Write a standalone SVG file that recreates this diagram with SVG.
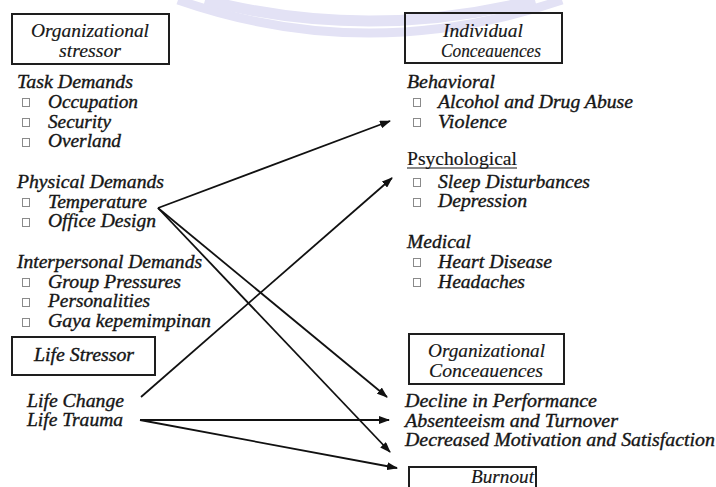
<svg xmlns="http://www.w3.org/2000/svg" width="716" height="487" viewBox="0 0 716 487">
<style>
text{font-family:"Liberation Serif",serif;font-size:18px;font-style:italic;fill:#161616;stroke:#161616;stroke-width:0.35}
.up{font-style:normal}
.hd{stroke-width:0.15}
.box{fill:none;stroke:#1e1e1e;stroke-width:2}
.cb{fill:#fff;stroke:#8a8a8a;stroke-width:1}
.wm{fill:none;stroke:#e3e2f5}
.con{fill:none;stroke:#111;stroke-width:1.8}
</style>
<defs>
<marker id="ah" markerUnits="userSpaceOnUse" markerWidth="11" markerHeight="8" refX="10" refY="4" orient="auto">
<path d="M0,0 L11,4 L0,8 Z" fill="#111"/>
</marker>
</defs>
<rect width="716" height="487" fill="#fff"/>
<g id="watermark">
<path class="wm" d="M178 0 Q368 66 562 0" stroke-width="9"/>
<path class="wm" d="M205 0 Q368 42 535 0" stroke-width="11"/>
</g>
<g font-family="Liberation Serif, serif">
<g id="organizational-stressor">
<rect class="box" x="12" y="14" width="157" height="50"/>
<text class="hd" x="31" y="37" textLength="118" lengthAdjust="spacingAndGlyphs">Organizational</text>
<text class="hd" x="59" y="57" textLength="62" lengthAdjust="spacingAndGlyphs">stressor</text>
</g>

<g id="task-demands">
<text x="17" y="88" textLength="116" lengthAdjust="spacingAndGlyphs">Task Demands</text>
<rect class="cb" x="22.5" y="98.5" width="7" height="8"/>
<text x="48" y="108" textLength="90" lengthAdjust="spacingAndGlyphs">Occupation</text>
<rect class="cb" x="22.5" y="118.5" width="7" height="8"/>
<text x="48" y="128" textLength="63" lengthAdjust="spacingAndGlyphs">Security</text>
<rect class="cb" x="22.5" y="138.5" width="7" height="8"/>
<text x="48" y="147" textLength="73" lengthAdjust="spacingAndGlyphs">Overland</text>
</g>

<g id="physical-demands">
<text x="17" y="188" textLength="147" lengthAdjust="spacingAndGlyphs">Physical Demands</text>
<rect class="cb" x="22.5" y="198.5" width="7" height="8"/>
<text x="48" y="208" textLength="99" lengthAdjust="spacingAndGlyphs">Temperature</text>
<rect class="cb" x="22.5" y="218.5" width="7" height="8"/>
<text x="48" y="227" textLength="108" lengthAdjust="spacingAndGlyphs">Office Design</text>
</g>

<g id="interpersonal-demands">
<text x="17" y="268" textLength="185" lengthAdjust="spacingAndGlyphs">Interpersonal Demands</text>
<rect class="cb" x="22.5" y="278.5" width="7" height="8"/>
<text x="48" y="288" textLength="133" lengthAdjust="spacingAndGlyphs">Group Pressures</text>
<rect class="cb" x="22.5" y="298.5" width="7" height="8"/>
<text x="48" y="307" textLength="102" lengthAdjust="spacingAndGlyphs">Personalities</text>
<rect class="cb" x="22.5" y="318.5" width="7" height="8"/>
<text x="48" y="327" textLength="163" lengthAdjust="spacingAndGlyphs">Gaya kepemimpinan</text>
</g>

<g id="life-stressor">
<rect class="box" x="12" y="337" width="143" height="38"/>
<text x="34" y="361" textLength="100" lengthAdjust="spacingAndGlyphs">Life Stressor</text>
<text x="27" y="407" textLength="97" lengthAdjust="spacingAndGlyphs">Life Change</text>
<text x="27" y="426" textLength="96" lengthAdjust="spacingAndGlyphs">Life Trauma</text>
</g>

<g id="individual-consequences">
<rect class="box" x="405" y="13" width="157" height="50"/>
<text class="hd" x="443" y="37" textLength="80" lengthAdjust="spacingAndGlyphs">Individual</text>
<text class="hd" x="441" y="57" textLength="100" lengthAdjust="spacingAndGlyphs">Conceauences</text>
</g>

<g id="behavioral">
<text x="407" y="88" textLength="88" lengthAdjust="spacingAndGlyphs">Behavioral</text>
<rect class="cb" x="413.5" y="98.5" width="7" height="8"/>
<text x="438" y="108" textLength="195" lengthAdjust="spacingAndGlyphs">Alcohol and Drug Abuse</text>
<rect class="cb" x="413.5" y="118.5" width="7" height="8"/>
<text x="438" y="128" textLength="69" lengthAdjust="spacingAndGlyphs">Violence</text>
</g>

<g id="psychological">
<text class="up hd" x="407" y="165" textLength="110" lengthAdjust="spacingAndGlyphs">Psychological</text>
<line x1="407" y1="168" x2="517" y2="168" stroke="#161616" stroke-width="1.2"/>
<rect class="cb" x="413.5" y="178.5" width="7" height="8"/>
<text x="438" y="188" textLength="152" lengthAdjust="spacingAndGlyphs">Sleep Disturbances</text>
<rect class="cb" x="413.5" y="198.5" width="7" height="8"/>
<text x="438" y="207" textLength="89" lengthAdjust="spacingAndGlyphs">Depression</text>
</g>

<g id="medical">
<text x="407" y="248" textLength="64" lengthAdjust="spacingAndGlyphs">Medical</text>
<rect class="cb" x="413.5" y="258.5" width="7" height="8"/>
<text x="438" y="268" textLength="114" lengthAdjust="spacingAndGlyphs">Heart Disease</text>
<rect class="cb" x="413.5" y="278.5" width="7" height="8"/>
<text x="438" y="288" textLength="87" lengthAdjust="spacingAndGlyphs">Headaches</text>
</g>

<g id="organizational-consequences">
<rect class="box" x="409" y="334" width="155" height="50"/>
<text class="hd" x="428" y="357" textLength="117" lengthAdjust="spacingAndGlyphs">Organizational</text>
<text class="hd" x="429" y="377" textLength="114" lengthAdjust="spacingAndGlyphs">Conceauences</text>
<text x="405" y="407" textLength="192" lengthAdjust="spacingAndGlyphs">Decline in Performance</text>
<text x="405" y="427" textLength="213" lengthAdjust="spacingAndGlyphs">Absenteeism and Turnover</text>
<text x="405" y="446" textLength="310" lengthAdjust="spacingAndGlyphs">Decreased Motivation and Satisfaction</text>
</g>

<g id="burnout">
<rect class="box" x="409" y="467" width="127" height="32"/>
<text class="hd" x="471" y="483" textLength="63" lengthAdjust="spacingAndGlyphs">Burnout</text>
</g>
</g>
<g id="connectors">
<path class="con" d="M158 208 L390 121" marker-end="url(#ah)"/>
<path class="con" d="M141 397 L392 178" marker-end="url(#ah)"/>
<path class="con" d="M158 208 L387 397" marker-end="url(#ah)"/>
<path class="con" d="M158 208 L390 452" marker-end="url(#ah)"/>
<path class="con" d="M140 420 L389 420" marker-end="url(#ah)"/>
<path class="con" d="M140 420 L397 468" marker-end="url(#ah)"/>
</g>
</svg>
